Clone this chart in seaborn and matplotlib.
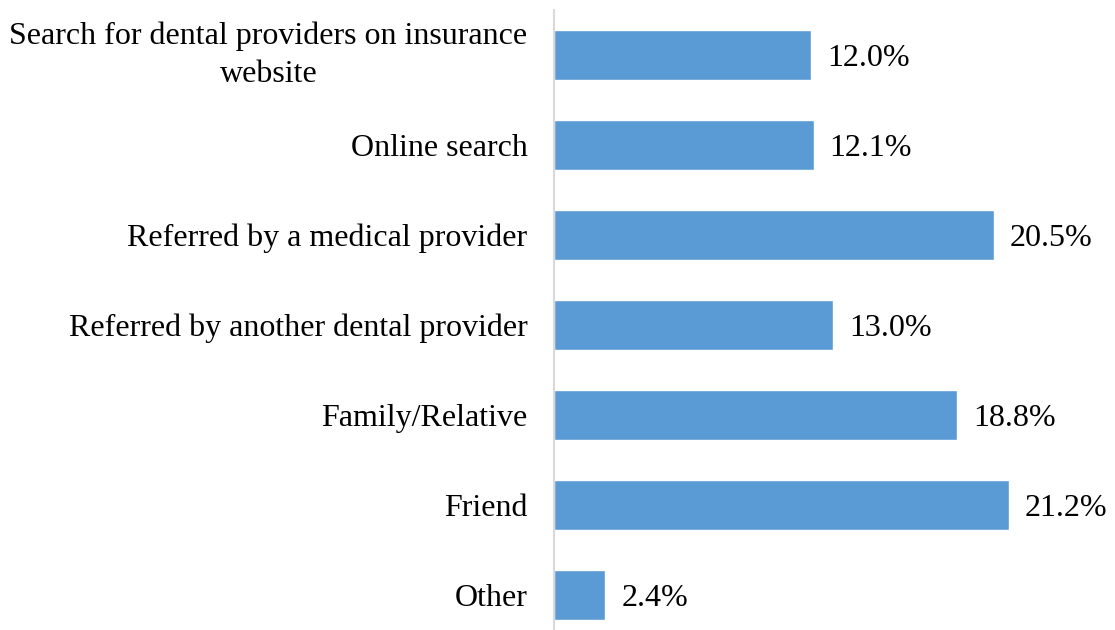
import matplotlib
matplotlib.use("Agg")
import matplotlib.pyplot as plt
import seaborn as sns
import pandas as pd

categories = [
    "Search for dental providers on insurance\nwebsite",
    "Online search",
    "Referred by a medical provider",
    "Referred by another dental provider",
    "Family/Relative",
    "Friend",
    "Other",
]
values = [12.0, 12.1, 20.5, 13.0, 18.8, 21.2, 2.4]
value_labels = ["12.0%", "12.1%", "20.5%", "13.0%", "18.8%", "21.2%", "2.4%"]

sns.set_style("white")
plt.rcParams["font.family"] = ["Liberation Serif", "DejaVu Serif"]
plt.rcParams["text.color"] = "black"
plt.rcParams["ytick.color"] = "black"

df = pd.DataFrame({"source": categories, "share": values})

W, H = 1115, 630
fig = plt.figure(figsize=(W / 100, H / 100), dpi=100)
ax = fig.add_axes([554 / W, 0, (W - 554) / W, 620 / H])

sns.barplot(data=df, x="share", y="source", orient="h", color="#5B9BD5",
            saturation=1, width=0.556, ax=ax)

ax.set_xlim(0, 26.15)
ax.set_ylim(6.389, -0.5)
texts = ax.bar_label(ax.containers[0], labels=value_labels, padding=11.5,
                     fontsize=23, color="black")
for t in texts:
    t.set_va("center_baseline")

ax.set_xlabel("")
ax.set_ylabel("")
ax.set_xticks([])
ax.tick_params(axis="y", length=0, pad=19, labelsize=23, labelcolor="black")
for lbl in ax.get_yticklabels():
    lbl.set_multialignment("center")
    lbl.set_linespacing(1.4)
    if "\n" in lbl.get_text():
        lbl.set_va("center")

for side in ["top", "right", "bottom"]:
    ax.spines[side].set_visible(False)
ax.spines["left"].set_color("#d9d9d9")
ax.spines["left"].set_linewidth(1.5)

fig.savefig("out.png", dpi=100)
